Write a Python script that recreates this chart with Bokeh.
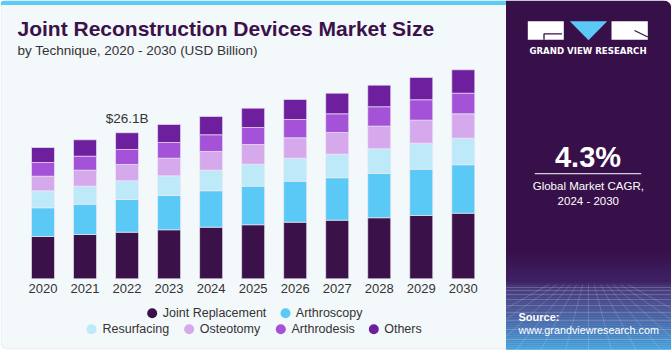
from bokeh.plotting import figure
from bokeh.models import Range1d, BoxAnnotation, ColumnDataSource
from bokeh.core.properties import value
from bokeh.embed import file_html
from bokeh.resources import INLINE

# ---------------- data ----------------
years = [2020, 2021, 2022, 2023, 2024, 2025, 2026, 2027, 2028, 2029, 2030]
year_labels = [str(y) for y in years]
joint_replacement = [7.56, 7.92, 8.33, 8.76, 9.23, 9.66, 10.12, 10.48, 10.91, 11.32, 11.73]
arthroscopy = [5.13, 5.42, 5.85, 6.13, 6.51, 6.90, 7.33, 7.58, 7.92, 8.28, 8.65]
resurfacing = [3.04, 3.22, 3.34, 3.52, 3.68, 3.93, 4.11, 4.22, 4.42, 4.65, 4.76]
osteotomy = [2.61, 2.86, 2.92, 3.15, 3.34, 3.52, 3.65, 3.88, 4.04, 4.11, 4.36]
arthrodesis = [2.45, 2.50, 2.68, 2.81, 2.99, 3.04, 3.27, 3.34, 3.47, 3.65, 3.68]
others = [2.68, 2.93, 2.99, 3.22, 3.27, 3.45, 3.58, 3.68, 3.86, 3.99, 4.18]
series_names = ["Joint Replacement", "Arthroscopy", "Resurfacing", "Osteotomy", "Arthrodesis", "Others"]
annot_year = 2022
annot_text = "$26.1B"
cagr_text = "4.3%"

# ---------------- styles ----------------
colors = ["#3a1149", "#5bc9f6", "#bde9f9", "#d5a9ec", "#a452d8", "#6e1f9e"]
TXT = "#333333"
FONT = "Liberation Sans"

W, H = 671, 350
p = figure(width=W, height=H, x_range=Range1d(0, W), y_range=Range1d(H, 0),
           min_border=0, toolbar_location=None, output_backend="svg",
           x_axis_type=None, y_axis_type=None)
p.outline_line_color = None
p.background_fill_color = "white"
p.border_fill_color = "white"
p.xgrid.visible = False
p.ygrid.visible = False

# data ranges (mapped onto the canvas)
p.extra_x_ranges = {"yr": Range1d(2018.989, 2034.954)}
p.extra_y_ranges = {"val": Range1d(-12.82, 49.75)}

# main panel
p.add_layout(BoxAnnotation(left=0.5, right=520, top=0.5, bottom=348.5, fill_color="#f3f8fb",
                           fill_alpha=1, line_color="#cdd2d7", line_width=1, border_radius=6,
                           level="underlay"))
p.add_layout(BoxAnnotation(left=0, right=506, top=0, bottom=4.5, fill_color="#5ecbf5",
                           fill_alpha=1, line_color=None, border_radius=(4, 0, 0, 0),
                           level="underlay"))
# right panel
p.add_layout(BoxAnnotation(left=505.5, right=W, top=0, bottom=H, fill_color="#37104a",
                           fill_alpha=1, line_color=None, border_radius=(0, 8, 0, 0),
                           level="underlay"))

# gradient at bottom of right panel
def lerp(c1, c2, t):
    a = [int(c1[i:i + 2], 16) for i in (1, 3, 5)]
    b = [int(c2[i:i + 2], 16) for i in (1, 3, 5)]
    return "#%02x%02x%02x" % tuple(round(a[k] + (b[k] - a[k]) * t) for k in range(3))

stops = [(250, "#37104a"), (282, "#3f2466"), (286, "#4a3d7e"), (310, "#5060a0"), (330, "#4f86c4"), (350, "#4eb2ea")]
gl, gr, gt, gb, gc = [], [], [], [], []
for (y0, c0), (y1, c1) in zip(stops[:-1], stops[1:]):
    n = max(1, int((y1 - y0) / 2))
    for i in range(n):
        ya = y0 + (y1 - y0) * i / n
        yb = y0 + (y1 - y0) * (i + 1) / n
        gl.append(505.5); gr.append(W); gt.append(ya); gb.append(yb + 0.3)
        gc.append(lerp(c0, c1, (i + 0.5) / n))
p.quad(left=gl, right=gr, top=gt, bottom=gb, fill_color=gc, line_color=None)
# perspective grid texture
hy = [287, 290, 294, 299, 305, 312, 320, 329, 339, 349]
p.multi_line(xs=[[505.5, W]] * len(hy), ys=[[y, y] for y in hy], line_color="white", line_alpha=0.18, line_width=1)
vx = [430, 460, 490, 515, 540, 565, 588, 611, 636, 661, 686, 716, 746]
p.multi_line(xs=[[588 + (x - 588) * 0.25, x] for x in vx], ys=[[284, 350]] * len(vx),
             line_color="white", line_alpha=0.16, line_width=1)

# ---------------- bars ----------------
src = ColumnDataSource(dict(year=years, label=year_labels,
                            jr=joint_replacement, ar=arthroscopy, rs=resurfacing,
                            os=osteotomy, ad=arthrodesis, ot=others))
keys = ["jr", "ar", "rs", "os", "ad", "ot"]
p.vbar_stack(keys, x="year", width=0.547, color=colors, source=src,
             x_range_name="yr", y_range_name="val",
             line_color="#f1ebf6", line_width=0.8, line_alpha=0.8)

# year labels
p.text(x="year", y=0, text="label", source=src, x_range_name="yr", y_range_name="val",
       text_align="center", text_baseline="middle", y_offset=9.6,
       text_font=value(FONT), text_font_size="13px", text_color=TXT)

# annotation above 2022
i_a = years.index(annot_year)
tot = sum(s[i_a] for s in [joint_replacement, arthroscopy, resurfacing, osteotomy, arthrodesis, others])
p.text(x=[annot_year], y=[tot], text=[annot_text], x_range_name="yr", y_range_name="val",
       text_align="center", text_baseline="middle", y_offset=-14.6,
       text_font=value(FONT), text_font_size="13.5px", text_color=TXT)

# ---------------- title ----------------
p.text(x=[17], y=[28.2], text=["Joint Reconstruction Devices Market Size"],
       text_font=value(FONT), text_font_style="bold", text_font_size="21px",
       text_color="#3a1149", text_baseline="middle")
p.text(x=[17], y=[49.5], text=["by Technique, 2020 - 2030 (USD Billion)"],
       text_font=value(FONT), text_font_size="13.5px", text_color=TXT, text_baseline="middle")

# ---------------- legend ----------------
leg_marker_x = [151.7, 285.0, 91.0, 188.7, 280.3, 373.3]
leg_text_x = [162.3, 295.3, 102.0, 199.3, 291.0, 383.7]
leg_y = [312.7, 312.7, 328.7, 328.7, 328.7, 328.7]
p.scatter(x=leg_marker_x, y=leg_y, size=10, marker="circle", fill_color=colors, line_color=None)
p.text(x=leg_text_x, y=leg_y, text=series_names, text_font=value(FONT),
       text_font_size="12.5px", text_color=TXT, text_baseline="middle")

# ---------------- right panel content ----------------
# logo blocks
p.quad(left=[527.3, 611.0], right=[563.3, 647.3], top=[20.7, 20.7], bottom=[39.3, 39.3],
       fill_color="white", line_color=None)
p.patch(x=[569.3, 606.7, 588.0], y=[20.7, 20.7, 39.7], fill_color="#5bc8f5", line_color=None)
p.multi_line(xs=[[543.5, 543.5, 561.5], [634, 647.3]], ys=[[39.3, 33.3, 33.3], [30, 36.5]],
             line_color="#37104a", line_width=1.3)
p.text(x=[587.5], y=[50.8], text=["GRAND VIEW RESEARCH"], text_font=value("DejaVu Sans"),
       text_font_style="bold", text_font_size="8.6px", text_color="white",
       text_align="center", text_baseline="middle")

p.text(x=[587.5], y=[156.4], text=[cagr_text], text_font=value(FONT), text_font_style="bold",
       text_font_size="29px", text_color="white", text_align="center", text_baseline="middle")
p.segment(x0=[534.3], y0=[173.2], x1=[640.7], y1=[173.2], line_color="#d6cfdc", line_width=1.2)
p.text(x=[587.8, 587.8], y=[185.7, 200.9], text=["Global Market CAGR,", "2024 - 2030"],
       text_font=value(FONT), text_font_size="11.5px", text_color="white",
       text_align="center", text_baseline="middle")

p.text(x=[518], y=[316.4], text=["Source:"], text_font=value(FONT), text_font_style="bold",
       text_font_size="11px", text_color="white", text_baseline="middle")
p.text(x=[518], y=[329.6], text=["www.grandviewresearch.com"], text_font=value(FONT),
       text_font_size="10.8px", text_color="white", text_baseline="middle")

open("out.html", "w").write(file_html(p, INLINE))
